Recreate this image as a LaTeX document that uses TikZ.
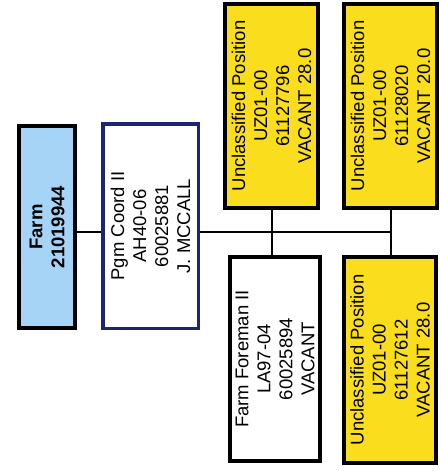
\documentclass[tikz,border=0pt]{standalone}
\usepackage{fontspec}
\setmainfont{Liberation Sans}
\usetikzlibrary{positioning, calc, backgrounds}
\definecolor{cfarm}{RGB}{166,212,247}
\definecolor{cvac}{RGB}{250,222,30}
\definecolor{cnavy}{RGB}{28,38,112}

\begin{document}
\begin{tikzpicture}[x=1pt, y=-1pt,
  unit/.style={draw=black, line width=4pt, fill=cfarm, rotate=90, align=center, font=\fontsize{18.5}{22}\selectfont\bfseries, inner sep=0pt, minimum width=202pt, minimum height=56pt},
  post/.style={draw=black, line width=4pt, fill=white, rotate=90, align=center, font=\fontsize{18.5}{22}\selectfont, inner sep=0pt, minimum width=204pt, minimum height=90pt},
  vac/.style={post, fill=cvac, minimum height=93pt},
  link/.style={-, line width=2pt, black}
]
\useasboundingbox (0,0) rectangle (441,471);
\node[unit] (farm) at (47,227) {Farm\\ 21019944};
\node[post, draw=cnavy, line width=3.5pt, minimum height=95.5pt, minimum width=204.5pt] (pgm) at (150.5,226) {Pgm Coord II\\ AH40-06\\ 60025881\\ J. MCCALL};
\node[vac] (vac1) at (271.5,106) {Unclassified Position\\ UZ01-00\\ 61127796\\ VACANT 28.0};
\node[vac] (vac2) at (390.5,106) {Unclassified Position\\ UZ01-00\\ 61128020\\ VACANT 20.0};
\node[post] (fman) at (275,359) {Farm Foreman II\\ LA97-04\\ 60025894\\ VACANT};
\node[vac, minimum height=92pt, minimum width=206pt] (vac3) at (390,360) {Unclassified Position\\ UZ01-00\\ 61127612\\ VACANT 28.0};
\coordinate (bus) at (392,232);
\begin{scope}[on background layer]
\draw[link] (farm.south |- bus) -- (pgm.north |- bus);
\draw[link] (pgm.south |- bus) -- (bus);
\draw[link] (vac1.west) -- (vac1.west |- fman.east);
\draw[link] (vac2.west) -- (vac2.west |- vac3.east);
\end{scope}
\end{tikzpicture}
\end{document}
